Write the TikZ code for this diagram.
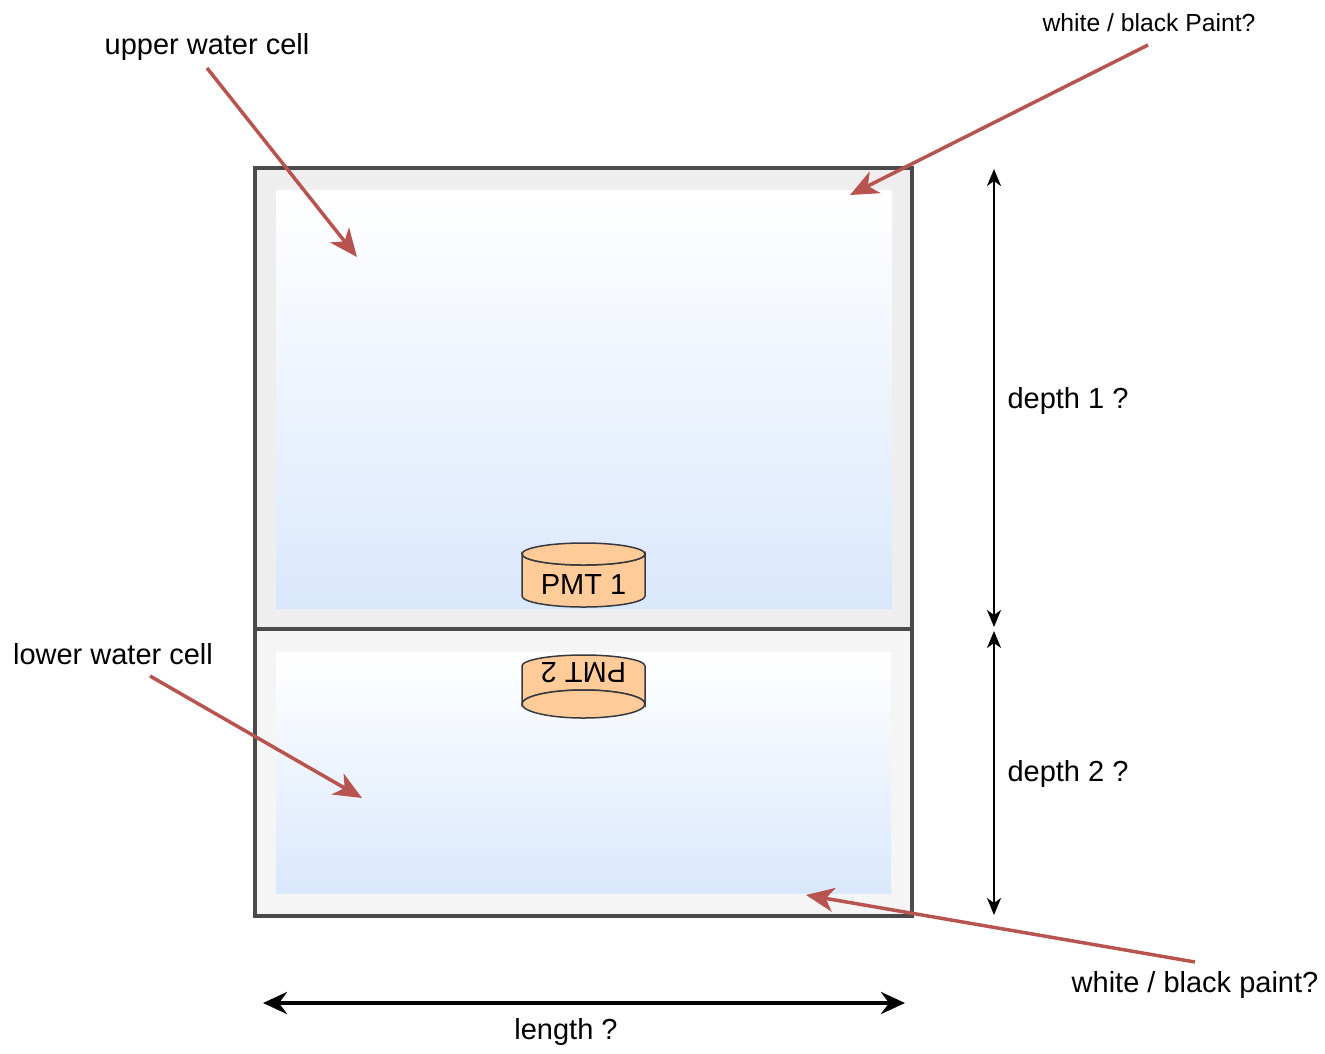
\documentclass[tikz,border=0pt]{standalone}
\usepackage{fontspec}
\setmainfont{Liberation Sans}
\usetikzlibrary{arrows.meta}
\definecolor{redarrow}{HTML}{B85450}
\definecolor{boxstroke}{HTML}{4A4A4A}
\definecolor{upperfill}{HTML}{EEEEEE}
\definecolor{lowerfill}{HTML}{F5F5F5}
\definecolor{waterblue}{HTML}{DAE8FC}
\definecolor{pmtfill}{HTML}{FFCC99}
\definecolor{pmtstroke}{HTML}{36393D}
\tikzset{
  lbl/.style={font=\fontsize{29}{34}\selectfont, inner sep=0pt},
  smalllbl/.style={font=\fontsize{24.7}{29}\selectfont, inner sep=0pt},
  outerbox/.style={draw=boxstroke, line width=3.5pt},
  water/.style={top color=white, bottom color=waterblue, draw=none},
  redarr/.style={draw=redarrow, line width=3.5pt, -{Stealth[length=28pt,width=24pt,inset=8pt]}},
  dimarr/.style={draw=black, line width=2pt, {Stealth[length=17pt,width=14pt,inset=5pt]}-{Stealth[length=17pt,width=14pt,inset=5pt]}},
  lenarr/.style={draw=black, line width=4pt, {Stealth[length=24pt,width=22pt,inset=8pt]}-{Stealth[length=24pt,width=22pt,inset=8pt]}},
  pmt/.style={fill=pmtfill, draw=pmtstroke, line width=1.5pt},
}
\begin{document}
\begin{tikzpicture}[x=1pt,y=-1pt]
\useasboundingbox (0,0) rectangle (1325,1053);
% boxes
\path[outerbox, fill=upperfill] (255,168) rectangle (912,629);
\path[water] (276,190) rectangle (892,608);
\path[outerbox, fill=lowerfill] (255,629) rectangle (912,916);
\path[water] (276,652) rectangle (891,893);
\draw[boxstroke, line width=3.5pt] (255,168) rectangle (912,629);
% PMT 1
\path[pmt] (522,554) -- (522,596) arc[start angle=180,end angle=0,x radius=61.5,y radius=11] -- (645,554) arc[start angle=0,end angle=180,x radius=61.5,y radius=11] -- cycle;
\path[pmt] (583.5,554) ellipse[x radius=61.5,y radius=11];
\node[lbl] (pmt1) at (583.5,585) {PMT 1};
% PMT 2 (upside down)
\path[pmt] (522,666) arc[start angle=180,end angle=360,x radius=61.5,y radius=11] -- (645,704) arc[start angle=0,end angle=-180,x radius=61.5,y radius=14] -- cycle;
\path[pmt] (583.5,704) ellipse[x radius=61.5,y radius=14];
\node[lbl, rotate=180] (pmt2) at (583.5,673) {PMT 2};
% labels
\node[lbl] (upper) at (207,47) {upper water cell};
\node[smalllbl] (paint1) at (1149,23) {white / black Paint?};
\node[lbl] (lower) at (113,654) {lower water cell};
\node[lbl] (paint2) at (1195,985) {white / black paint?};
\node[lbl] (d1) at (1068,401) {depth 1 ?};
\node[lbl] (d2) at (1068,774) {depth 2 ?};
\node[lbl] (len) at (566,1032) {length ?};
% arrow targets
\coordinate (tu) at (357,257);
\coordinate (tp1) at (850,195);
\coordinate (tl) at (362,798);
\coordinate (tp2) at (806,895);
\coordinate (su) at (207,68);
\coordinate (sp1) at (1148,45);
\coordinate (sl) at (150,676);
\coordinate (sp2) at (1195,962);
\draw[redarr] (su) -- (tu);
\draw[redarr] (sp1) -- (tp1);
\draw[redarr] (sl) -- (tl);
\draw[redarr] (sp2) -- (tp2);
% dimension arrows
\coordinate (d1a) at (994,169);
\coordinate (d1b) at (994,627);
\coordinate (d2a) at (994,631);
\coordinate (d2b) at (994,915);
\coordinate (la) at (263,1003);
\coordinate (lb) at (905,1003);
\draw[dimarr] (d1a) -- (d1b);
\draw[dimarr] (d2a) -- (d2b);
\draw[lenarr] (la) -- (lb);
\end{tikzpicture}
\end{document}
